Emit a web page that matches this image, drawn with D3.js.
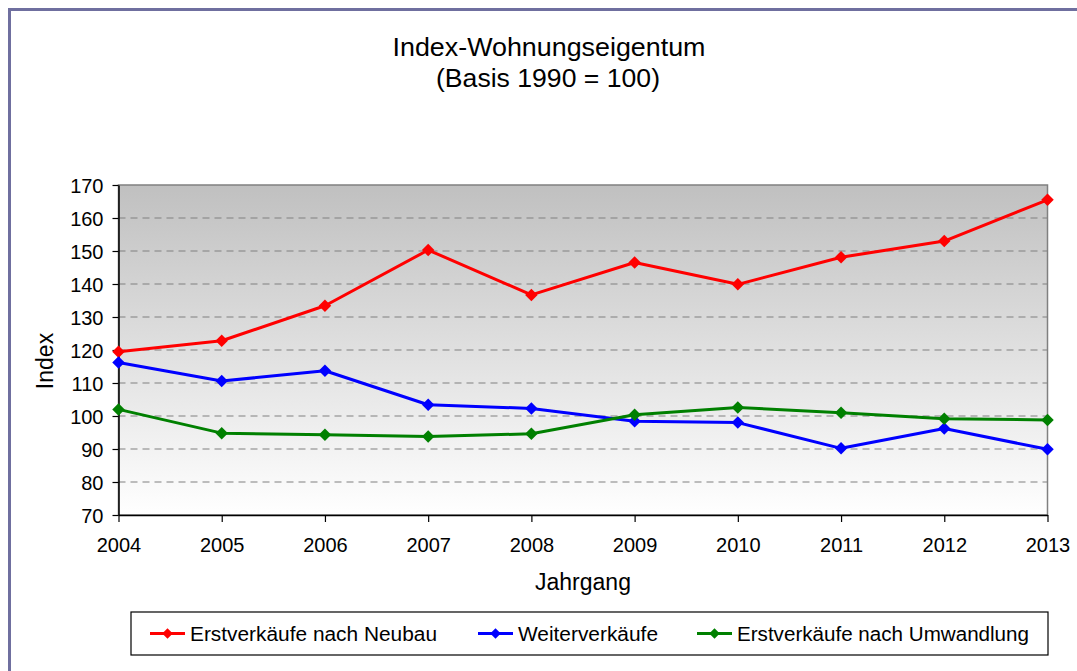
<!DOCTYPE html>
<html>
<head>
<meta charset="utf-8">
<script src="https://cdn.jsdelivr.net/npm/d3@7"></script>
<style>
  html, body { margin: 0; padding: 0; background: #fff; }
  svg { display: block; font-family: "Liberation Sans", Arial, sans-serif; }
</style>
</head>
<body>
<div id="chart"></div>
<script>
// Index-Wohnungseigentum (Basis 1990 = 100)
const years = [2004, 2005, 2006, 2007, 2008, 2009, 2010, 2011, 2012, 2013];
const neubau = [119.5, 122.8, 133.4, 150.3, 136.7, 146.5, 139.9, 148.1, 153.0, 165.5];
const weiter = [116.2, 110.6, 113.7, 103.4, 102.3, 98.4, 98.0, 90.2, 96.2, 89.9];
const umwandlung = [102.0, 94.8, 94.3, 93.8, 94.6, 100.4, 102.6, 101.0, 99.2, 98.8];
const yTicks = [70, 80, 90, 100, 110, 120, 130, 140, 150, 160, 170];

const series = [
  { name: 'Erstverkäufe nach Neubau', values: neubau, color: '#FF0000', textLen: 247 },
  { name: 'Weiterverkäufe', values: weiter, color: '#0000FF', textLen: 140 },
  { name: 'Erstverkäufe nach Umwandlung', values: umwandlung, color: '#008000', textLen: 292 }
];

const W = 1077, H = 671;
const plot = { left: 118.5, right: 1047.5, top: 185, bottom: 515 };

const svg = d3.select('#chart').append('svg')
  .attr('width', W).attr('height', H);

// outer frame (right/bottom edges fall outside the picture)
svg.append('rect')
  .attr('x', 9.5).attr('y', 9.5)
  .attr('width', W + 20).attr('height', H + 20)
  .attr('fill', '#fff')
  .attr('stroke', '#6F6F9F').attr('stroke-width', 3);

const x = d3.scaleLinear().domain([2004, 2013]).range([plot.left, plot.right]);
const y = d3.scaleLinear().domain([70, 170]).range([plot.bottom, plot.top]);

// plot background gradient
const grad = svg.append('defs').append('linearGradient')
  .attr('id', 'bg').attr('x1', 0).attr('y1', 0).attr('x2', 0).attr('y2', 1);
grad.append('stop').attr('offset', '0%').attr('stop-color', '#C0C0C0');
grad.append('stop').attr('offset', '100%').attr('stop-color', '#FFFFFF');

svg.append('rect')
  .attr('x', plot.left).attr('y', plot.top)
  .attr('width', plot.right - plot.left).attr('height', plot.bottom - plot.top)
  .attr('fill', 'url(#bg)')
  .attr('stroke', '#808080').attr('stroke-width', 1.5);

// dashed gridlines
svg.append('g').selectAll('line')
  .data(yTicks.filter(t => t > 70 && t < 170))
  .join('line')
  .attr('x1', plot.left).attr('x2', plot.right)
  .attr('y1', d => y(d)).attr('y2', d => y(d))
  .attr('stroke', '#808080').attr('stroke-width', 1.2)
  .attr('stroke-dasharray', '7,5');

// axes
const yAxis = svg.append('g')
  .attr('transform', `translate(${plot.left},0)`)
  .call(d3.axisLeft(y).tickValues(yTicks).tickSize(6).tickPadding(9).tickSizeOuter(0));
const xAxis = svg.append('g')
  .attr('transform', `translate(0,${plot.bottom})`)
  .call(d3.axisBottom(x).tickValues(years).tickFormat(d3.format('d')).tickSize(7).tickPadding(16).tickSizeOuter(0));

[yAxis, xAxis].forEach(a => {
  a.select('.domain').attr('stroke', '#000').attr('stroke-width', 1.5);
  a.selectAll('.tick line').attr('stroke', '#000').attr('stroke-width', 1.2);
  a.selectAll('.tick text')
    .attr('fill', '#000')
    .attr('font-size', '20px')
    .attr('font-family', '"Liberation Sans", Arial, sans-serif');
});
yAxis.selectAll('.tick text').attr('dy', '0.36em');

// lines + markers
const line = d3.line().x((d, i) => x(years[i])).y(d => y(d));
const diamond = d3.symbol().type(d3.symbolSquare).size(78);

series.forEach(s => {
  svg.append('path')
    .datum(s.values)
    .attr('d', line)
    .attr('fill', 'none')
    .attr('stroke', s.color)
    .attr('stroke-width', 3)
    .attr('stroke-linejoin', 'round');
  svg.append('g').selectAll('path')
    .data(s.values)
    .join('path')
    .attr('d', diamond)
    .attr('transform', (d, i) => `translate(${x(years[i])},${y(d)}) rotate(45)`)
    .attr('fill', s.color);
});

// titles
svg.append('text')
  .attr('x', 549).attr('y', 56)
  .attr('text-anchor', 'middle').attr('font-size', '25px')
  .attr('textLength', 313).attr('lengthAdjust', 'spacingAndGlyphs')
  .text('Index-Wohnungseigentum');
svg.append('text')
  .attr('x', 548).attr('y', 87)
  .attr('text-anchor', 'middle').attr('font-size', '25px')
  .attr('textLength', 224).attr('lengthAdjust', 'spacingAndGlyphs')
  .text('(Basis 1990 = 100)');

svg.append('text')
  .attr('x', 583).attr('y', 590)
  .attr('text-anchor', 'middle').attr('font-size', '23px')
  .text('Jahrgang');

svg.append('text')
  .attr('transform', 'translate(53,361) rotate(-90)')
  .attr('text-anchor', 'middle').attr('font-size', '23px')
  .text('Index');

// legend
svg.append('rect')
  .attr('x', 131).attr('y', 612)
  .attr('width', 917).attr('height', 43)
  .attr('fill', '#fff')
  .attr('stroke', '#000').attr('stroke-width', 1.2);

const legendX = [150, 478, 697];
const legendMarker = d3.symbol().type(d3.symbolSquare).size(56);
series.forEach((s, i) => {
  const g = svg.append('g').attr('transform', `translate(${legendX[i]},633.5)`);
  g.append('line')
    .attr('x1', 0).attr('x2', 35)
    .attr('stroke', s.color).attr('stroke-width', 3);
  g.append('path')
    .attr('d', legendMarker)
    .attr('transform', 'translate(17.5,0) rotate(45)')
    .attr('fill', s.color);
  g.append('text')
    .attr('x', 40).attr('y', 7)
    .attr('font-size', '20px')
    .attr('textLength', s.textLen).attr('lengthAdjust', 'spacingAndGlyphs')
    .text(s.name);
});
</script>
</body>
</html>
